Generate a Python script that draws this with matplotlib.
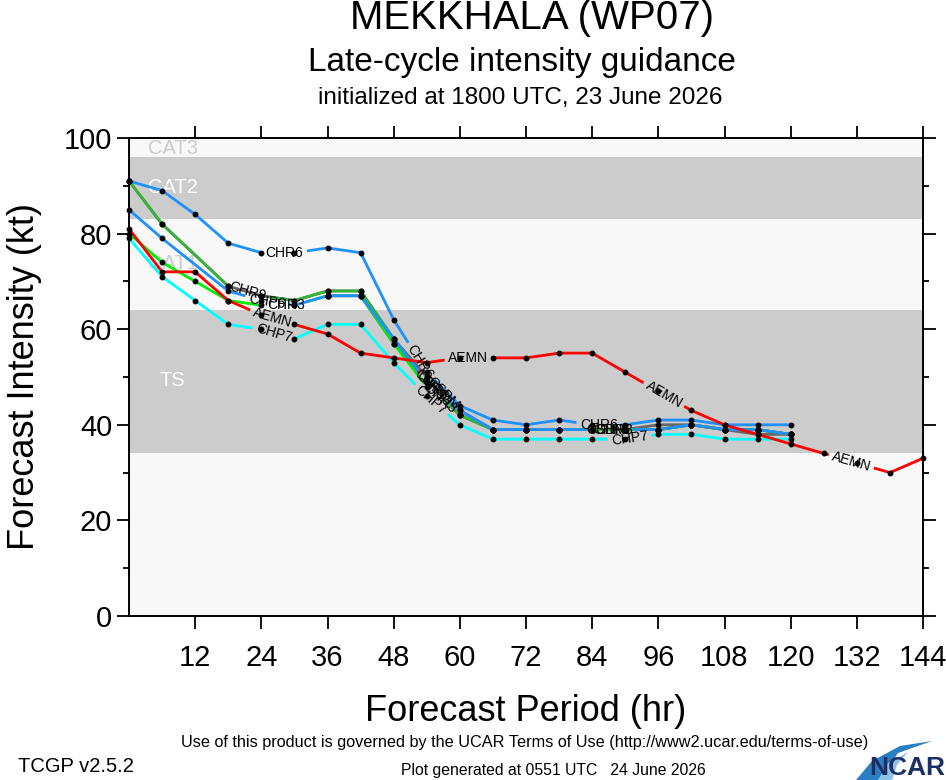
import numpy as np
import matplotlib
matplotlib.use("Agg")
import matplotlib.pyplot as plt
from matplotlib.path import Path
from matplotlib.transforms import IdentityTransform
from matplotlib.patches import Polygon

plt.rcParams['font.family'] = ['Liberation Sans', 'DejaVu Sans']

# ---------------- data ----------------
HOURS = [0, 6, 12, 18, 24, 30, 36, 42, 48, 54, 60, 66, 72, 78, 84, 90, 96, 102, 108, 114, 120]
HOURS_NO12 = [0, 6, 18, 24, 30, 36, 42, 48, 54, 60, 66, 72, 78, 84, 90, 96, 102, 108, 114, 120]
HOURS_LATE = [36, 42, 48, 54, 60, 66, 72, 78, 84, 90, 96, 102, 108, 114, 120]
HOURS_AEMN = [0, 6, 12, 18, 24, 30, 36, 42, 48, 54, 60, 66, 72, 78, 84, 90, 96, 102, 108, 114, 120,
              126, 132, 138, 144]

AEMN = [81, 72, 72, 66, 63, 61, 59, 55, 54, 53, 54, 54, 54, 55, 55, 51, 47, 43, 40, 38, 36, 34, 32, 30, 33]
CHP7 = [79, 71, 66, 61, 60, 58, 61, 61, 53, 46, 40, 37, 37, 37, 37, 37, 38, 38, 37, 37, 37]
CHR6 = [91, 89, 84, 78, 76, 76, 77, 76, 62, 51, 44, 41, 40, 41, 40, 40, 41, 41, 40, 40, 40]
CHR3 = [80, 74, 70, 66, 65, 65, 67, 67, 57, 48, 42, 39, 39, 39, 39, 39, 39, 40, 39, 39, 38]
CHP6 = [85, 79, 68, 66, 65, 67, 67, 58, 49, 43, 39, 39, 39, 39, 39, 39, 40, 39, 39, 38]
CHR9 = [91, 82, 69, 67, 66, 68, 68, 58, 49, 42, 39, 39, 39, 39, 39, 39, 40, 39, 39, 38]
CSBM = [91, 82, 69, 67, 66, 68, 68, 58, 50, 43, 39, 39, 39, 39, 39, 40, 40, 39, 38, 38]
CHC3 = [67, 67, 57, 49, 42, 39, 39, 39, 39, 39, 39, 40, 39, 39, 38]

X_TICKS = [12, 24, 36, 48, 60, 72, 84, 96, 108, 120, 132, 144]
Y_TICKS = [0, 20, 40, 60, 80, 100]
Y_MINOR = [10, 30, 50, 70, 90]

GREY_BANDS = [(34, 64), (83, 96)]
CAT_NAMES = ['CAT3', 'CAT2', 'CAT1', 'TS']
CAT_POS = [(3.4, 97.9), (3.4, 89.7), (3.4, 73.8), (5.5, 49.2)]
CAT_COLORS = ['#cccccc', 'white', '#cccccc', 'white']

SERIES = [
    # name, hours, values, color, label hours
    ('CHC3', HOURS_LATE, CHC3, '#ff00ff', [55.5]),
    ('CHR3', HOURS, CHR3, '#00ee00', [28.5, 56.5, 88.0]),
    ('CSBM', HOURS_NO12, CSBM, '#666666', [57.0, 86.5]),
    ('CHR9', HOURS_NO12, CHR9, '#35b535', [21.5, 54.5]),
    ('CHP6', HOURS_NO12, CHP6, '#1e90ff', [25.0, 55.0, 87.5]),
    ('CHR6', HOURS, CHR6, '#1e90ff', [28.2, 52.8, 85.2]),
    ('CHP7', HOURS, CHP7, '#00ffff', [26.3, 54.8, 90.8]),
    ('AEMN', HOURS_AEMN, AEMN, '#ff0000', [26.0, 61.5, 97.0, 131.0]),
]

# ---------------- figure ----------------
W, H = 946, 780
fig = plt.figure(figsize=(W / 100, H / 100), dpi=100)
fig.patch.set_facecolor('white')
ax = fig.add_axes([129 / W, 1 - 616 / H, (923 - 129) / W, (616 - 138) / H])
ax.set_xlim(0, 144)
ax.set_ylim(0, 100)
ax.set_facecolor('#f8f8f8')

for lo, hi in GREY_BANDS:
    ax.axhspan(lo, hi, color='#cccccc', zorder=0.5, lw=0)
for name, (cx, cy), col in zip(CAT_NAMES, CAT_POS, CAT_COLORS):
    ax.text(cx, cy, name, color=col, fontsize=14.5, ha='left', va='center', zorder=0.8)

ax.set_xticks(X_TICKS)
ax.set_xticklabels([str(v) for v in X_TICKS])
ax.set_yticks(Y_TICKS)
ax.set_yticklabels([str(v) for v in Y_TICKS])
ax.set_yticks(Y_MINOR, minor=True)
ax.tick_params(axis='both', which='major', direction='out', length=9, width=1.3,
               labelsize=21, top=True, right=True)
ax.tick_params(axis='y', which='minor', direction='out', length=4.5, width=1.3, right=True)
ax.tick_params(axis='x', which='major', pad=11)
ax.tick_params(axis='y', which='major', pad=3)
for sp in ax.spines.values():
    sp.set_linewidth(1.4)
    sp.set_zorder(20)

ax.set_xlabel('Forecast Period (hr)', fontsize=26, labelpad=16)
ax.set_ylabel('Forecast Intensity (kt)', fontsize=26, labelpad=16)

fig.canvas.draw()
renderer = fig.canvas.get_renderer()
bb = ax.bbox
x0, y0, x1, y1 = bb.x0, bb.y0, bb.x1, bb.y1

for z, (name, hrs, vals, col, lab_hours) in enumerate(SERIES):
    hrs = np.asarray(hrs, float)
    vals = np.asarray(vals, float)
    line, = ax.plot(hrs, vals, color=col, lw=2.0, zorder=2 + z * 0.1,
                    solid_joinstyle='round', solid_capstyle='butt')
    verts = [(x0, y0), (x1, y0), (x1, y1), (x0, y1), (x0, y0)]
    codes = [Path.MOVETO, Path.LINETO, Path.LINETO, Path.LINETO, Path.CLOSEPOLY]
    for lh in lab_hours:
        i = int(np.searchsorted(hrs, lh)) - 1
        i = max(0, min(i, len(hrs) - 2))
        p1 = ax.transData.transform((hrs[i], vals[i]))
        p2 = ax.transData.transform((hrs[i + 1], vals[i + 1]))
        t = (lh - hrs[i]) / (hrs[i + 1] - hrs[i])
        c = p1 + t * (p2 - p1)
        ang = np.arctan2(p2[1] - p1[1], p2[0] - p1[0])
        dc = ax.transData.inverted().transform(c)
        txt = ax.text(dc[0], dc[1], name, fontsize=10, color='black', ha='center', va='center',
                      rotation=0, rotation_mode='anchor', zorder=6)
        w = txt.get_window_extent(renderer).width + 7
        txt.set_rotation(np.degrees(ang))
        h = 12
        u = np.array([np.cos(ang), np.sin(ang)])
        v = np.array([-np.sin(ang), np.cos(ang)])
        corners = [c - w / 2 * u - h / 2 * v, c - w / 2 * u + h / 2 * v,
                   c + w / 2 * u + h / 2 * v, c + w / 2 * u - h / 2 * v]
        verts += [tuple(p) for p in corners] + [tuple(corners[0])]
        codes += [Path.MOVETO, Path.LINETO, Path.LINETO, Path.LINETO, Path.CLOSEPOLY]
    line.set_clip_path(Path(verts, codes), IdentityTransform())

for name, hrs, vals, col, lab_hours in SERIES:
    ax.plot(hrs, vals, 'o', color='black', ms=3.2, zorder=5, clip_on=False)

# ---------------- titles & footer ----------------
fig.text(532 / W, 1 - 18 / H, 'MEKKHALA (WP07)', fontsize=29, ha='center', va='center')
fig.text(522 / W, 1 - 62 / H, 'Late-cycle intensity guidance', fontsize=24, ha='center', va='center')
fig.text(520 / W, 1 - 98 / H, 'initialized at 1800 UTC, 23 June 2026', fontsize=17.5,
         ha='center', va='center')
fig.text(525 / W, 1 - 742 / H,
         'Use of this product is governed by the UCAR Terms of Use (http://www2.ucar.edu/terms-of-use)',
         fontsize=11.7, ha='center', va='center')
fig.text(18 / W, 1 - 767 / H, 'TCGP v2.5.2', fontsize=14.5, ha='left', va='center')
fig.text(553 / W, 1 - 770 / H, 'Plot generated at 0551 UTC   24 June 2026', fontsize=11.3,
         ha='center', va='center')

# NCAR logo
sw = Polygon([(856 / W, 1 - 780 / H), (872 / W, 1 - 761 / H), (900 / W, 1 - 746 / H),
              (932 / W, 1 - 741 / H), (898 / W, 1 - 753 / H), (880 / W, 1 - 780 / H)],
             closed=True, transform=fig.transFigure, facecolor='#2a7fc4', edgecolor='none')
fig.patches.append(sw)
sw2 = Polygon([(878 / W, 1 - 780 / H), (888 / W, 1 - 763 / H), (908 / W, 1 - 752 / H),
               (897 / W, 1 - 765 / H), (892 / W, 1 - 780 / H)],
              closed=True, transform=fig.transFigure, facecolor='#8fc2e6', edgecolor='none')
fig.patches.append(sw2)
fig.text(945 / W, 1 - 768 / H, 'NCAR', fontsize=19, fontweight='bold', color='#1b2f63',
         ha='right', va='center')

fig.savefig('out.png', dpi=100)
